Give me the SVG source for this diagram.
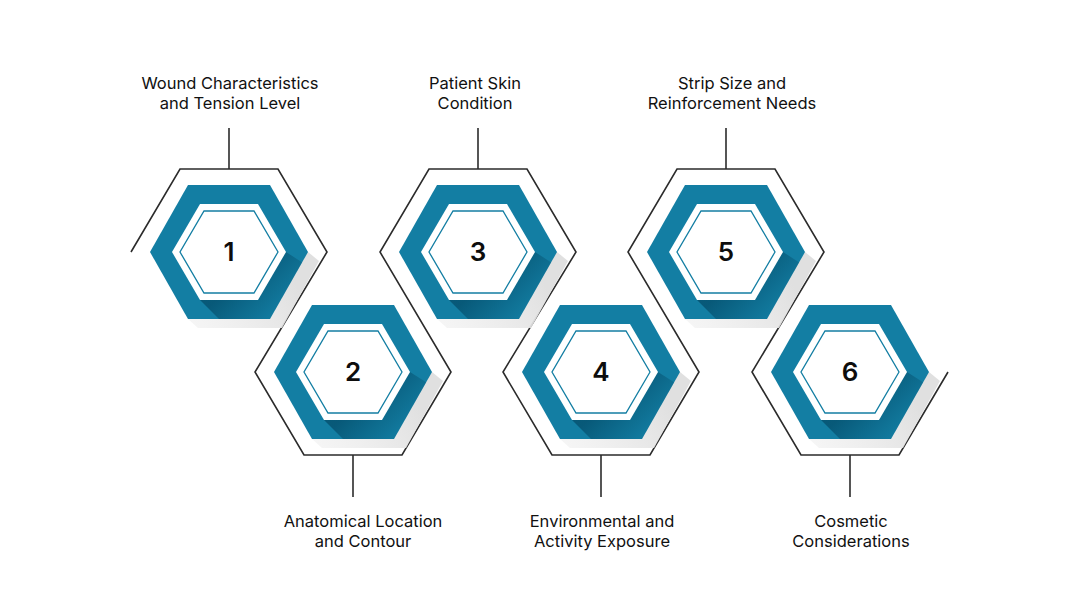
<svg xmlns="http://www.w3.org/2000/svg" width="1080" height="608" viewBox="0 0 1080 608">
  <style>
    .lbl { font-family: Inter, "Liberation Sans", sans-serif; font-size: 16.5px; fill: #111111; text-anchor: middle; }
    .num { font-family: Inter, "Liberation Sans", sans-serif; font-size: 26px; font-weight: 600; fill: #0d0d0d; text-anchor: middle; }
    .conn { fill: none; stroke: #2b2b2b; stroke-width: 1.6; stroke-linejoin: miter; }
    .ring { fill: #137ea3; }
    .white { fill: #ffffff; }
    .inner { fill: #ffffff; stroke: #137ea3; stroke-width: 1.3; }
  </style>
  <defs>
    <clipPath id="ringClip">
      <polygon points="79,0 41,67 -41,67 -79,0 -41,-67 41,-67"/>
    </clipPath>
    <linearGradient id="darkGrad" gradientUnits="userSpaceOnUse" x1="15" y1="20" x2="55" y2="60">
      <stop offset="0" stop-color="#05506e" stop-opacity="0.8"/>
      <stop offset="1" stop-color="#05506e" stop-opacity="0"/>
    </linearGradient>
    <linearGradient id="grayGrad" gradientUnits="userSpaceOnUse" x1="60" y1="20" x2="-40" y2="75">
      <stop offset="0" stop-color="#e0e0e0" stop-opacity="1"/>
      <stop offset="1" stop-color="#f2f2f2" stop-opacity="0.7"/>
    </linearGradient>
    <g id="badge">
      <!-- outer gray long shadow -->
      <polygon points="79,0 90,9 53,76 -31,76 -41,67" fill="url(#grayGrad)"/>
      <!-- blue ring -->
      <polygon class="ring" points="79,0 41,67 -41,67 -79,0 -41,-67 41,-67"/>
      <!-- dark inner shading -->
      <g clip-path="url(#ringClip)">
        <polygon points="57,0 82,16 52,70 -7,70 -29,48" fill="url(#darkGrad)"/>
      </g>
      <!-- white hex -->
      <polygon class="white" points="57,0 29,48 -29,48 -57,0 -29,-48 29,-48"/>
      <!-- inner thin outline hex -->
      <polygon class="inner" points="49,0 25,41 -25,41 -49,0 -25,-41 25,-41"/>
    </g>
  </defs>

  <rect width="1080" height="608" fill="#ffffff"/>

  <g id="connectors">
    <polyline class="conn" points="131,252 180,169 278,169 327,252 255,372 304,455 402,455 451,372 380,252 429,169 527,169 576,252 503,372 552,455 650,455 699,372 628,252 677,169 775,169 824,252 752,372 801,455 899,455 948,372"/>
    <line class="conn" x1="229" y1="128" x2="229" y2="169"/>
    <line class="conn" x1="478" y1="128" x2="478" y2="169"/>
    <line class="conn" x1="726" y1="128" x2="726" y2="169"/>
    <line class="conn" x1="353" y1="455" x2="353" y2="497"/>
    <line class="conn" x1="601" y1="455" x2="601" y2="497"/>
    <line class="conn" x1="850" y1="455" x2="850" y2="497"/>
  </g>

  <g id="node1">
    <use href="#badge" transform="translate(229,252)"/>
    <text class="num" x="229" y="261">1</text>
    <text class="lbl" x="230" y="89">Wound Characteristics</text>
    <text class="lbl" x="230" y="109">and Tension Level</text>
  </g>
  <g id="node2">
    <use href="#badge" transform="translate(353,372)"/>
    <text class="num" x="353" y="381">2</text>
    <text class="lbl" x="363" y="527">Anatomical Location</text>
    <text class="lbl" x="363" y="547">and Contour</text>
  </g>
  <g id="node3">
    <use href="#badge" transform="translate(478,252)"/>
    <text class="num" x="478" y="261">3</text>
    <text class="lbl" x="475" y="89">Patient Skin</text>
    <text class="lbl" x="475" y="109">Condition</text>
  </g>
  <g id="node4">
    <use href="#badge" transform="translate(601,372)"/>
    <text class="num" x="601" y="381">4</text>
    <text class="lbl" x="602" y="527">Environmental and</text>
    <text class="lbl" x="602" y="547">Activity Exposure</text>
  </g>
  <g id="node5">
    <use href="#badge" transform="translate(726,252)"/>
    <text class="num" x="726" y="261">5</text>
    <text class="lbl" x="732" y="89">Strip Size and</text>
    <text class="lbl" x="732" y="109">Reinforcement Needs</text>
  </g>
  <g id="node6">
    <use href="#badge" transform="translate(850,372)"/>
    <text class="num" x="850" y="381">6</text>
    <text class="lbl" x="851" y="527">Cosmetic</text>
    <text class="lbl" x="851" y="547">Considerations</text>
  </g>
</svg>
